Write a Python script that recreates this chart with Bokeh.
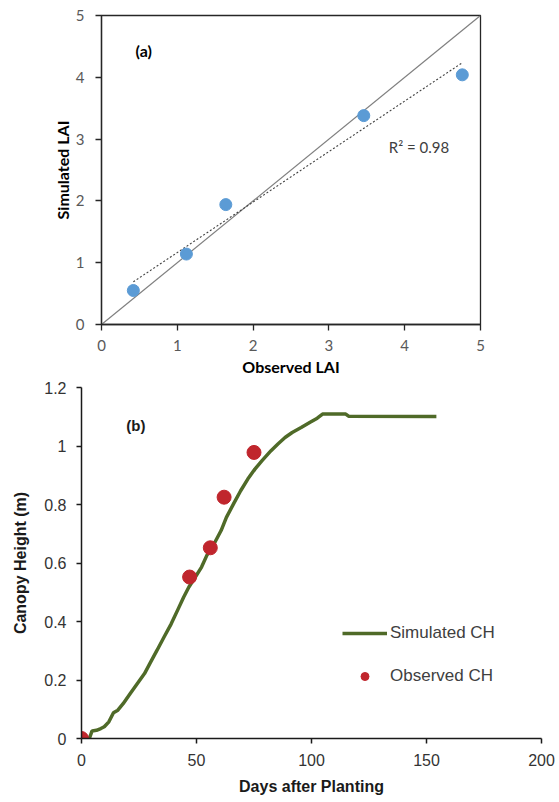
import numpy as np
from bokeh.plotting import figure
from bokeh.models import Range1d, FixedTicker, Label, Legend, LegendItem
from bokeh.embed import file_html
from bokeh.resources import INLINE

# ---------------- data ----------------
# (a) LAI comparison
obs_lai = [0.42, 1.12, 1.64, 3.46, 4.76]
sim_lai = [0.55, 1.14, 1.94, 3.38, 4.04]
lai_ticks = [0, 1, 2, 3, 4, 5]

# (b) Canopy height
sim_days = [3.4, 4.6, 6.5, 8.4, 9.9, 11.9, 13.9, 15.8, 18.1, 21.2, 24.3, 27.4,
            29.7, 32.8, 35.9, 39.0, 42.1, 44.4, 46.7, 49.5, 52.2, 54.5, 57.6,
            60.7, 63.0, 66.1, 69.2, 72.3, 75.4, 78.5, 82.4, 85.4, 88.5, 91.6,
            95.5, 99.4, 102.5, 104.8, 114.9, 116.1, 154.3]
sim_ch = [0.0, 0.026, 0.028, 0.034, 0.040, 0.057, 0.088, 0.097, 0.119, 0.154,
          0.188, 0.222, 0.256, 0.301, 0.347, 0.392, 0.444, 0.483, 0.518, 0.552,
          0.586, 0.626, 0.665, 0.711, 0.756, 0.802, 0.847, 0.887, 0.921, 0.950,
          0.984, 1.007, 1.029, 1.046, 1.063, 1.081, 1.095, 1.109, 1.109, 1.102,
          1.101]
obs_days = [0, 47, 56, 62, 75]
obs_ch = [0.0, 0.552, 0.652, 0.825, 0.978]
day_ticks = [0, 50, 100, 150, 200]
ch_ticks = [0, 0.2, 0.4, 0.6, 0.8, 1.0, 1.2]

# ---------------- (a) ----------------
FA = "Lato"
p1 = figure(width=555, height=380, x_range=Range1d(0, 5), y_range=Range1d(0, 5),
            output_backend="svg", toolbar_location=None,
            min_border_left=101, min_border_right=75, min_border_top=15, min_border_bottom=56)
p1.grid.visible = False
p1.outline_line_color = "#262626"
p1.outline_line_width = 1.3
p1.outline_line_alpha = 1.0
for ax in (p1.xaxis[0], p1.yaxis[0]):
    ax.ticker = FixedTicker(ticks=lai_ticks)
    ax.minor_tick_line_color = None
    ax.major_tick_in = 0
    ax.major_tick_out = 6
    ax.major_tick_line_color = "#262626"
    ax.major_tick_line_width = 1.3
    ax.axis_line_color = "#262626"
    ax.axis_line_width = 1.3
    ax.major_label_text_font = FA
    ax.major_label_text_font_size = "15px"
    ax.major_label_text_color = "#595959"
    ax.axis_label_text_font = FA
    ax.axis_label_text_font_style = "bold"
    ax.axis_label_text_font_size = "16px"
    ax.axis_label_text_color = "#000000"
p1.xaxis.axis_label = "Observed LAI"
p1.yaxis.axis_label = "Simulated LAI"
p1.xaxis.major_label_standoff = 9
p1.xaxis.axis_label_standoff = 3
p1.yaxis.major_label_standoff = 11
p1.yaxis.axis_label_standoff = 1

# 1:1 line across the axis range
lo, hi = p1.x_range.start, p1.x_range.end
p1.line([lo, hi], [lo, hi], line_color="#7f7f7f", line_width=1.2)
# linear trend line
slope, intercept = np.polyfit(obs_lai, sim_lai, 1)
tx = np.array([min(obs_lai), max(obs_lai)])
p1.line(tx, slope * tx + intercept, line_color="#404040", line_width=1.1, line_dash="2 2")
r2 = np.corrcoef(obs_lai, sim_lai)[0, 1] ** 2
p1.scatter(obs_lai, sim_lai, size=12, fill_color="#5B9BD5", line_color="#5B9BD5")
p1.add_layout(Label(x=0.45, y=4.43, text="(a)", text_font=FA, text_font_style="bold",
                    text_font_size="16px", text_baseline="middle", text_color="#000000"))
p1.add_layout(Label(x=3.79, y=2.87, text="R\u00b2 = %.2f" % r2, text_font=FA,
                    text_font_size="15px", text_baseline="middle", text_color="#404040"))

# ---------------- (b) ----------------
FB = "Liberation Sans"
p2 = figure(width=555, height=420, x_range=Range1d(0, 200), y_range=Range1d(0, 1.2),
            output_backend="svg", toolbar_location=None,
            min_border_left=81, min_border_right=14, min_border_top=7, min_border_bottom=62)
p2.grid.visible = False
p2.outline_line_color = None
for ax in (p2.xaxis[0], p2.yaxis[0]):
    ax.minor_tick_line_color = None
    ax.major_tick_in = 0
    ax.major_tick_out = 5
    ax.major_tick_line_color = "#1a1a1a"
    ax.major_tick_line_width = 1.5
    ax.axis_line_color = "#1a1a1a"
    ax.axis_line_width = 1.5
    ax.major_label_text_font = FB
    ax.major_label_text_font_size = "16px"
    ax.major_label_text_color = "#333333"
    ax.axis_label_text_font = FB
    ax.axis_label_text_font_style = "bold"
    ax.axis_label_text_font_size = "16px"
    ax.axis_label_text_color = "#1a1a1a"
p2.xaxis.ticker = FixedTicker(ticks=day_ticks)
p2.yaxis.ticker = FixedTicker(ticks=ch_ticks)
p2.yaxis.major_label_overrides = {0: "0", 1: "1"}
p2.xaxis.axis_label = "Days after Planting"
p2.yaxis.axis_label = "Canopy Height (m)"
p2.xaxis.major_label_standoff = 10
p2.xaxis.axis_label_standoff = 9
p2.yaxis.major_label_standoff = 10
p2.yaxis.axis_label_standoff = 12

rl = p2.line(sim_days, sim_ch, line_color="#4F6A28", line_width=3.5)
rs = p2.scatter(obs_days, obs_ch, size=14, fill_color="#C0262D", line_color="#C0262D")
p2.add_layout(Label(x=19.5, y=1.07, text="(b)", text_font=FB, text_font_style="bold",
                    text_font_size="15px", text_baseline="middle", text_color="#1a1a1a"))

legend = Legend(items=[LegendItem(label="Simulated CH", renderers=[rl]),
                       LegendItem(label="Observed CH", renderers=[rs])],
                location=(261, 52), glyph_width=45, glyph_height=20, spacing=23,
                label_standoff=3, padding=0, margin=0,
                border_line_alpha=0, background_fill_alpha=0,
                label_text_font=FB, label_text_font_size="17px", label_text_color="#404040")
p2.add_layout(legend)

# two independent roots, stacked, so their frames are not aligned to each other
open("out.html", "w").write(file_html([p1, p2], INLINE))
